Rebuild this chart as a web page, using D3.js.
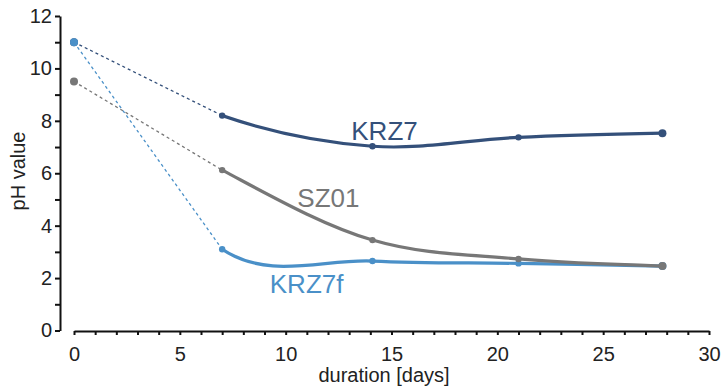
<!DOCTYPE html>
<html>
<head>
<meta charset="utf-8">
<script src="https://cdn.jsdelivr.net/npm/d3@7"></script>
<style>
  body { margin: 0; background: #fff; }
  svg text { font-family: "Liberation Sans", Arial, sans-serif; }
</style>
</head>
<body>
<div id="chart"></div>
<script>
// data
var days = [0, 7, 14.1, 21, 27.8];
var krz7 = [11, 8.2, 7.03, 7.37, 7.53];
var sz01 = [9.5, 6.12, 3.45, 2.73, 2.46];
var krz7f = [11, 3.1, 2.65, 2.56, 2.46];
var seriesNames = ["KRZ7", "SZ01", "KRZ7f"];
var xTicks = [0, 5, 10, 15, 20, 25, 30];
var yTicks = [0, 2, 4, 6, 8, 10, 12];

var W = 725, H = 390;

var svg = d3
  .select("#chart")
  .append("svg")
  .attr("width", W)
  .attr("height", H);

var x = d3.scaleLinear().domain([0, 30]).range([74, 709]);
var y = d3.scaleLinear().domain([0, 12]).range([330.5, 16]);

// Y axis (minor ticks at odd values)
var yAxis = svg
  .append("g")
  .attr("transform", "translate(60,0)")
  .call(
    d3
      .axisLeft(y)
      .tickValues(d3.range(0, 13, 1))
      .tickSize(5)
      .tickSizeOuter(0)
      .tickPadding(3)
      .tickFormat((d) => (yTicks.indexOf(d) >= 0 ? d : ""))
  );

// X axis (minor ticks every day)
var xAxis = svg
  .append("g")
  .attr("transform", "translate(0,331)")
  .call(
    d3
      .axisBottom(x)
      .tickValues(d3.range(0, 31, 1))
      .tickSize(4)
      .tickSizeOuter(0)
      .tickPadding(12)
      .tickFormat((d) => (xTicks.indexOf(d) >= 0 ? d : ""))
  );

[yAxis, xAxis].forEach(function (g) {
  g.selectAll("path, line").attr("stroke", "#111").attr("stroke-width", 2);
  g.selectAll("text")
    .attr("fill", "#222")
    .style("font-size", "20px");
});

// axis titles
svg
  .append("text")
  .attr("transform", "translate(25,171) rotate(-90)")
  .attr("text-anchor", "middle")
  .style("font-size", "20px")
  .attr("fill", "#222")
  .text("pH value");

svg
  .append("text")
  .attr("x", 384)
  .attr("y", 382)
  .attr("text-anchor", "middle")
  .style("font-size", "20px")
  .attr("fill", "#222")
  .text("duration [days]");

var colors = ["#34507a", "#777777", "#4a90c8"];
var allSeries = [krz7, sz01, krz7f];

// only draw smooth part after day 7
svg
  .append("clipPath")
  .attr("id", "clip")
  .append("rect")
  .attr("x", x(days[1]))
  .attr("y", 0)
  .attr("width", W)
  .attr("height", H);

var smooth = d3
  .line()
  .x((d) => x(d[0]))
  .y((d) => y(d[1]))
  .curve(d3.curveCatmullRom.alpha(0.2));

// draw order: KRZ7, KRZ7f, SZ01 (grey on top of blue at the end)
[0, 2, 1].forEach(function (i) {
  var vals = allSeries[i];
  var pts = days.map((d, j) => [d, vals[j]]);

  // dashed straight segment day 0 -> day 7
  svg
    .append("line")
    .attr("x1", x(pts[0][0]))
    .attr("y1", y(pts[0][1]))
    .attr("x2", x(pts[1][0]))
    .attr("y2", y(pts[1][1]))
    .attr("stroke", colors[i])
    .attr("stroke-width", 1.3)
    .attr("stroke-dasharray", "3,3");

  svg
    .append("path")
    .datum(pts)
    .attr("clip-path", "url(#clip)")
    .attr("d", smooth)
    .attr("fill", "none")
    .attr("stroke", colors[i])
    .attr("stroke-width", 3.2);

  svg
    .append("g")
    .selectAll("circle")
    .data(pts)
    .enter()
    .append("circle")
    .attr("cx", (d) => x(d[0]))
    .attr("cy", (d) => y(d[1]))
    .attr("r", (d, j) => (j == 0 || j == 4 ? 4 : 3.2))
    .attr("fill", colors[i]);
});

// series labels
var labelPos = [
  [13.1, 7.25],
  [10.55, 4.7],
  [9.25, 1.43],
];
seriesNames.forEach(function (name, i) {
  svg
    .append("text")
    .attr("x", x(labelPos[i][0]))
    .attr("y", y(labelPos[i][1]))
    .style("font-size", "26px")
    .attr("fill", colors[i])
    .text(name);
});
</script>
</body>
</html>
